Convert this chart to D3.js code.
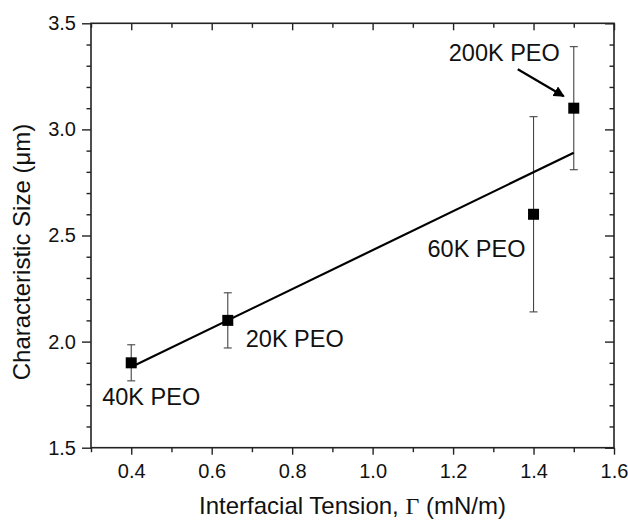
<!DOCTYPE html>
<html>
<head>
<meta charset="utf-8">
<script src="https://cdn.jsdelivr.net/npm/d3@7"></script>
<style>
  html, body { margin: 0; padding: 0; background: #fff; }
  svg { display: block; }
  text { font-family: "Liberation Sans", Arial, Helvetica, sans-serif; fill: #111; }
</style>
</head>
<body>
<svg id="chart" width="628" height="520"></svg>
<script>
// Interfacial tension vs. characteristic size for PEO blends
const samples      = ["40K PEO", "20K PEO", "60K PEO", "200K PEO"];
const tension      = [0.40, 0.64, 1.40, 1.50];   // mN/m
const charSize     = [1.90, 2.10, 2.60, 3.10];   // μm
const sizeError    = [0.085, 0.13, 0.46, 0.29];  // ± μm

// Linear fit drawn across the measured range
const fitX = [0.40, 1.50];
const fitY = [1.88, 2.89];

// Axis ticks
const xMajorTicks = [0.4, 0.6, 0.8, 1.0, 1.2, 1.4, 1.6];
const xMinorTicks = [0.3, 0.5, 0.7, 0.9, 1.1, 1.3, 1.5];
const yMajorTicks = [1.5, 2.0, 2.5, 3.0, 3.5];
const yMinorTicks = [1.6, 1.7, 1.8, 1.9, 2.1, 2.2, 2.3, 2.4, 2.6, 2.7, 2.8, 2.9, 3.1, 3.2, 3.3, 3.4];

const svg = d3.select("#chart");
const plot = { left: 91, right: 614, top: 23.3, bottom: 447.7 };

const x = d3.scaleLinear().domain([0.3, 1.6]).range([plot.left, plot.right]);
const y = d3.scaleLinear().domain([1.5, 3.5]).range([plot.bottom, plot.top]);

const axisColor = "#222";
const tickFont = "20px";

function styleAxis(g) {
  g.selectAll(".domain").remove();
  g.selectAll(".tick line").attr("stroke", axisColor).attr("stroke-width", 1.4);
  g.selectAll("text").style("font-size", tickFont)
    .style("font-family", '"Liberation Sans", Arial, sans-serif').attr("fill", "#111");
}

// Bottom axis (outward ticks, labelled)
svg.append("g").attr("transform", `translate(0,${plot.bottom})`)
  .call(d3.axisBottom(x).tickValues(xMajorTicks).tickSize(7).tickPadding(9).tickFormat(d3.format(".1f")))
  .call(styleAxis);
svg.append("g").attr("transform", `translate(0,${plot.bottom})`)
  .call(d3.axisBottom(x).tickValues(xMinorTicks).tickSize(4.5).tickFormat(""))
  .call(styleAxis);

// Top axis (inward ticks, no labels)
svg.append("g").attr("transform", `translate(0,${plot.top})`)
  .call(d3.axisBottom(x).tickValues(xMajorTicks).tickSize(7).tickFormat(""))
  .call(styleAxis);
svg.append("g").attr("transform", `translate(0,${plot.top})`)
  .call(d3.axisBottom(x).tickValues(xMinorTicks).tickSize(4.5).tickFormat(""))
  .call(styleAxis);

// Left axis (outward ticks, labelled)
svg.append("g").attr("transform", `translate(${plot.left},0)`)
  .call(d3.axisLeft(y).tickValues(yMajorTicks).tickSize(9).tickPadding(6).tickFormat(d3.format(".1f")))
  .call(styleAxis);
svg.append("g").attr("transform", `translate(${plot.left},0)`)
  .call(d3.axisLeft(y).tickValues(yMinorTicks).tickSize(4.5).tickFormat(""))
  .call(styleAxis);

// Right axis (inward ticks)
svg.append("g").attr("transform", `translate(${plot.right},0)`)
  .call(d3.axisLeft(y).tickValues(yMajorTicks).tickSize(9).tickFormat(""))
  .call(styleAxis);
svg.append("g").attr("transform", `translate(${plot.right},0)`)
  .call(d3.axisLeft(y).tickValues(yMinorTicks).tickSize(4.5).tickFormat(""))
  .call(styleAxis);

// Frame
svg.append("rect")
  .attr("x", plot.left).attr("y", plot.top)
  .attr("width", plot.right - plot.left).attr("height", plot.bottom - plot.top)
  .attr("fill", "none").attr("stroke", axisColor).attr("stroke-width", 1.6);

// Data rows
const rows = samples.map((s, i) => ({ name: s, t: tension[i], v: charSize[i], e: sizeError[i] }));

// Error bars
const eb = svg.append("g").attr("stroke", "#444").attr("stroke-width", 1.1);
rows.forEach(d => {
  eb.append("line").attr("x1", x(d.t)).attr("x2", x(d.t))
    .attr("y1", y(d.v - d.e)).attr("y2", y(d.v + d.e));
  [d.v - d.e, d.v + d.e].forEach(end => {
    eb.append("line").attr("x1", x(d.t) - 4).attr("x2", x(d.t) + 4)
      .attr("y1", y(end)).attr("y2", y(end));
  });
});

// Linear fit
svg.append("path")
  .datum(fitX.map((fx, i) => [fx, fitY[i]]))
  .attr("d", d3.line().x(d => x(d[0])).y(d => y(d[1])))
  .attr("fill", "none").attr("stroke", "#000").attr("stroke-width", 2.2);

// Square markers
const sq = 11;
svg.append("g").selectAll("rect").data(rows).join("rect")
  .attr("x", d => x(d.t) - sq / 2).attr("y", d => y(d.v) - sq / 2)
  .attr("width", sq).attr("height", sq).attr("fill", "#000");

// Sample labels, offset from their markers
const labelOffsets = {
  "40K PEO":  { dx: -29, dy: 42, anchor: "start" },
  "20K PEO":  { dx: 18,  dy: 27, anchor: "start" },
  "60K PEO":  { dx: -106, dy: 43, anchor: "start" },
  "200K PEO": { dx: -125, dy: -47, anchor: "start" }
};
svg.append("g").selectAll("text").data(rows).join("text")
  .attr("x", d => x(d.t) + labelOffsets[d.name].dx)
  .attr("y", d => y(d.v) + labelOffsets[d.name].dy)
  .attr("text-anchor", d => labelOffsets[d.name].anchor)
  .style("font-size", "23.5px")
  .text(d => d.name);

// Arrow pointing at the 200K PEO marker
svg.append("defs").append("marker")
  .attr("id", "arrowhead").attr("viewBox", "0 0 10 10")
  .attr("refX", 9).attr("refY", 5)
  .attr("markerWidth", 5).attr("markerHeight", 5)
  .attr("markerUnits", "strokeWidth")
  .attr("orient", "auto")
  .append("path").attr("d", "M0,0 L10,5 L0,10 z").attr("fill", "#000");
const top200 = rows[3];
svg.append("line")
  .attr("x1", x(top200.t) - 56).attr("y1", y(top200.v) - 39)
  .attr("x2", x(top200.t) - 10).attr("y2", y(top200.v) - 12)
  .attr("stroke", "#000").attr("stroke-width", 2.2)
  .attr("marker-end", "url(#arrowhead)");

// Axis titles
const xTitle = svg.append("text")
  .attr("x", (plot.left + plot.right) / 2).attr("y", 514)
  .attr("text-anchor", "middle").style("font-size", "24px");
xTitle.append("tspan").text("Interfacial Tension, ");
xTitle.append("tspan").style("font-family", '"Liberation Serif", "Times New Roman", serif').text("Γ");
xTitle.append("tspan").text(" (mN/m)");

svg.append("text")
  .attr("transform", "translate(30,252) rotate(-90)")
  .attr("text-anchor", "middle").style("font-size", "24px")
  .text("Characteristic Size (μm)");
</script>
</body>
</html>
